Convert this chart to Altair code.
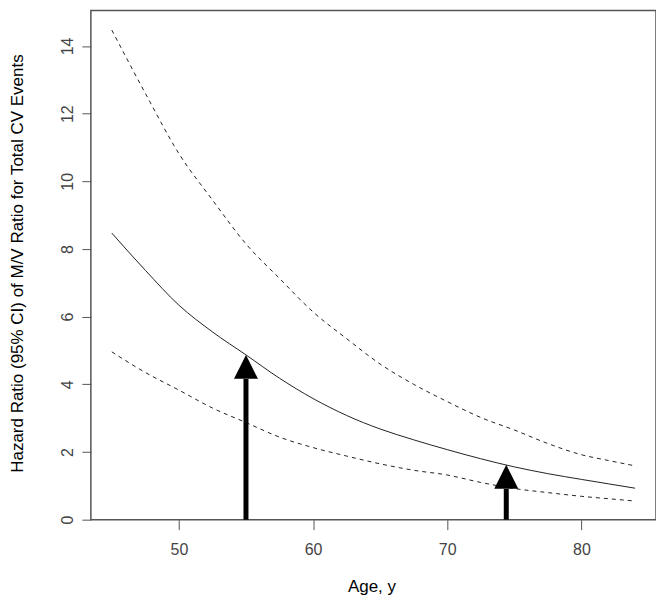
import altair as alt
import pandas as pd

# ---- data ----
ages = [45, 47.5, 50, 52.5, 55, 57.5, 60, 62.5, 65, 67.5, 70, 72.5, 75, 77.5, 80, 82, 84]
hr_est = [8.47, 7.37, 6.34, 5.55, 4.87, 4.18, 3.58, 3.08, 2.68, 2.36, 2.07, 1.80, 1.56, 1.36, 1.19, 1.06, 0.93]
hr_upper = [14.47, 12.60, 10.82, 9.45, 8.15, 7.13, 6.14, 5.35, 4.60, 4.00, 3.49, 3.02, 2.65, 2.25, 1.92, 1.75, 1.59]
hr_lower = [4.96, 4.35, 3.83, 3.30, 2.87, 2.44, 2.13, 1.88, 1.65, 1.46, 1.32, 1.10, 0.92, 0.80, 0.69, 0.62, 0.55]

arrow_age = [55, 74.4]
arrow_tip = [4.87, 1.62]
arrow_base = [4.16, 0.91]

x_ticks = [50, 60, 70, 80]
y_ticks = [0, 2, 4, 6, 8, 10, 12, 14]
x_domain = [43.44, 85.56]
y_domain = [0, 15.05]

FONT = "Liberation Sans, Arial"

rows = []
for series, vals in [("est", hr_est), ("upper", hr_upper), ("lower", hr_lower)]:
    for a, v in zip(ages, vals):
        rows.append({"age": a, "hr": v, "series": series})
df = pd.DataFrame(rows)
arrows = pd.DataFrame({"age": arrow_age, "tip": arrow_tip, "base": arrow_base, "zero": [0, 0]})

xscale = alt.Scale(domain=x_domain, nice=False, zero=False)
yscale = alt.Scale(domain=y_domain, nice=False, zero=False)

xaxis = alt.Axis(values=x_ticks, title="Age, y", grid=False, domain=False,
                 tickColor="#555", tickSize=10, tickWidth=1,
                 labelFont=FONT, labelFontSize=16, labelColor="#444", labelPadding=12,
                 titleFont=FONT, titleFontSize=17, titleFontWeight="normal", titleColor="#000",
                 titleBaseline="alphabetic", titleY=72, titleX=281, titleAlign="center")
yaxis = alt.Axis(values=y_ticks, title="Hazard Ratio (95% CI) of M/V Ratio for Total CV Events",
                 grid=False, domain=False, tickColor="#555", tickSize=9, tickWidth=1,
                 labelFont=FONT, labelFontSize=16, labelColor="#444", labelAngle=-90,
                 labelAlign="center", labelBaseline="alphabetic", labelPadding=9,
                 titleFont=FONT, titleFontSize=17, titleFontWeight="normal", titleColor="#000",
                 titleAngle=-90, titleBaseline="alphabetic", titleAlign="center",
                 titleX=-68, titleY=253)

est = alt.Chart(df).transform_filter(alt.datum.series == "est").mark_line(
    color="#222", strokeWidth=1, interpolate="monotone"
).encode(
    x=alt.X("age:Q", scale=xscale, axis=xaxis),
    y=alt.Y("hr:Q", scale=yscale, axis=yaxis),
)

ci = alt.Chart(df).transform_filter(alt.datum.series != "est").mark_line(
    color="#222", strokeWidth=1, strokeDash=[4, 4], interpolate="monotone"
).encode(
    x=alt.X("age:Q", scale=xscale),
    y=alt.Y("hr:Q", scale=yscale),
    detail="series:N",
)

shaft = alt.Chart(arrows).mark_rule(color="black", strokeWidth=5).encode(
    x=alt.X("age:Q", scale=xscale),
    y=alt.Y("zero:Q", scale=yscale),
    y2="base:Q",
)

head = alt.Chart(arrows).mark_point(
    shape="M0,0L1,2L-1,2Z", size=576, filled=True, color="black", opacity=1, strokeWidth=0
).encode(
    x=alt.X("age:Q", scale=xscale),
    y=alt.Y("tip:Q", scale=yscale),
)

chart = alt.layer(ci, est, shaft, head).properties(
    width=566, height=510,
    background="white",
    autosize=alt.AutoSizeParams(type="none"),
    padding={"left": 83, "top": 2, "right": 0, "bottom": 80},
).configure_view(stroke="#555", strokeWidth=1.5)

chart.save("out.html", embed_options={"renderer": "svg", "actions": False})
